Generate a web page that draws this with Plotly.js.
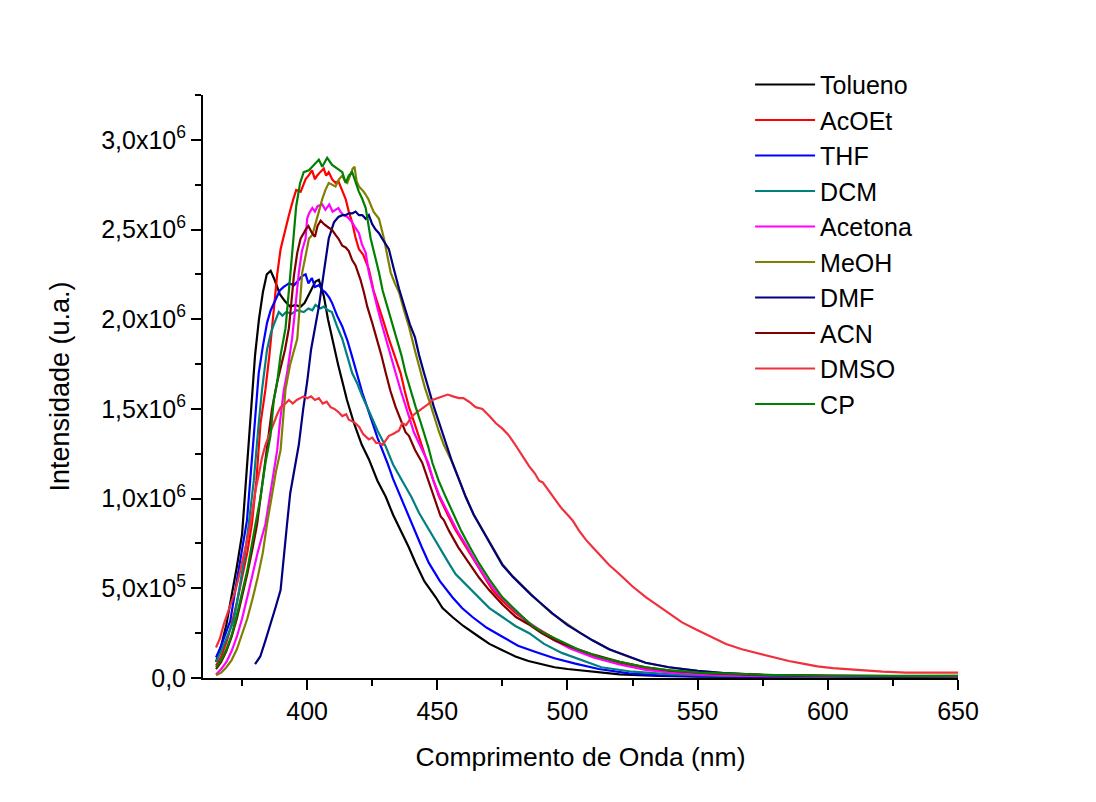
<!DOCTYPE html>
<html>
<head>
<meta charset="utf-8">
<script src="https://cdn.plot.ly/plotly-3.0.1.min.js"></script>
<style>
html,body{margin:0;padding:0;background:#fff;}
#chart{width:1096px;height:802px;}
</style>
</head>
<body>
<div id="chart"></div>
<script>
// Values in units of 10^6 (u.a.)
var seriesNames = ["Tolueno","AcOEt","THF","DCM","Acetona","MeOH","DMF","ACN","DMSO","CP"];

var toluenoX = [365,367,369,371,373,375,376.9,378.2,380,381.5,383,384.5,386,387.5,389.5,391.5,393.5,395.5,397.5,399,401,403.2,404.5,406.4,408,409.6,412,415.3,418,421,423.7,427,430.2,433,435.9,439,441.7,445,449.4,452,455.8,460,466,470,475,480,485,489,495,500,510,520,535,550,575,600,625,650];
var toluenoY = [0.09,0.18,0.30,0.45,0.62,0.80,1.20,1.45,1.80,2.00,2.15,2.25,2.27,2.22,2.14,2.10,2.07,2.08,2.07,2.09,2.15,2.21,2.22,2.13,2.00,1.89,1.74,1.55,1.42,1.30,1.22,1.10,1.01,0.91,0.825,0.73,0.64,0.54,0.45,0.39,0.34,0.29,0.23,0.19,0.155,0.12,0.095,0.08,0.06,0.05,0.033,0.02,0.012,0.008,0.006,0.005,0.004,0.005];

var acoetX = [365,367,369,371,373,375,377,378.8,380.5,382.1,384,385.5,387.2,388.5,389.8,391.5,393,394.5,395.8,397.5,399.4,400.5,401.9,403,403.8,405,406.4,407.3,408.3,409.6,410.9,412,412.8,414,414.8,416,417.3,418.5,419.9,421.5,423.7,425.5,427.6,429.5,431.4,433.5,435.9,437.5,439.1,441,442.3,444,446.2,448.5,450.7,454,457,461,464.7,468,471.2,475,480.2,485,489.1,495,500.7,510,520,530,539,550,565,580,600,625,650];
var acoetY = [0.07,0.12,0.20,0.30,0.42,0.56,0.70,0.86,1.10,1.42,1.61,1.80,2.07,2.25,2.39,2.50,2.58,2.66,2.72,2.71,2.78,2.80,2.83,2.78,2.80,2.82,2.84,2.80,2.82,2.78,2.76,2.77,2.74,2.70,2.67,2.60,2.54,2.46,2.39,2.36,2.28,2.16,2.07,1.98,1.89,1.80,1.70,1.60,1.51,1.43,1.37,1.29,1.20,1.10,1.01,0.91,0.825,0.73,0.64,0.56,0.49,0.43,0.36,0.31,0.27,0.22,0.173,0.12,0.08,0.05,0.034,0.025,0.018,0.014,0.01,0.009,0.01];

var thfX = [365,367,369,370.5,372.5,375,376.9,379.5,381.4,383,384.6,386,387.8,389.5,391,393,395,396.2,398,399.4,400.5,401.8,403,404.5,406,407,408.5,409.6,411.5,413.5,415.5,417.3,419.3,421.2,424,427,430.8,433,435.9,438.5,441,444,446.8,451,455.8,459.5,463.5,469,475,481,487.8,495,503,512,523.7,535,550,575,600,625,650];
var thfY = [0.115,0.18,0.26,0.32,0.50,0.72,0.88,1.35,1.70,1.85,1.98,2.05,2.11,2.16,2.18,2.20,2.19,2.21,2.24,2.25,2.20,2.23,2.18,2.19,2.16,2.15,2.12,2.09,2.02,1.96,1.88,1.79,1.69,1.59,1.47,1.34,1.20,1.11,1.01,0.92,0.825,0.73,0.64,0.54,0.45,0.39,0.34,0.28,0.23,0.18,0.145,0.11,0.08,0.05,0.026,0.015,0.01,0.007,0.005,0.004,0.004];

var dcmX = [365,367,369,371.8,374,376,377.6,379.5,381.4,382.7,384.6,386,387.2,389.1,390.5,392,394,396,398.7,400.5,402,403.2,405,406.4,408,409.5,411.5,413.5,415.5,417.3,419.3,421.2,424,427,430.2,433,436.5,440,443,447,450.7,454,457,461,466,470,475,480,485.3,491,497.8,505,513,525,540,560,580,600,625,650];
var dcmY = [0.09,0.15,0.22,0.32,0.50,0.68,0.86,1.10,1.42,1.61,1.83,1.92,1.97,2.04,2.02,2.04,2.03,2.05,2.04,2.06,2.05,2.08,2.06,2.07,2.05,2.04,1.96,1.89,1.79,1.70,1.64,1.57,1.48,1.38,1.29,1.19,1.10,1.01,0.92,0.82,0.73,0.65,0.58,0.52,0.45,0.39,0.34,0.29,0.25,0.19,0.14,0.10,0.06,0.035,0.02,0.012,0.009,0.008,0.007,0.008];

var acetonaX = [365,367,369,371,373,375,377,379,381,384,386,388.5,389.5,391,392.3,394.2,395.5,396.8,398,399.4,400,400.7,402,403,404,405.8,407,408.5,409.8,410.9,412,412.8,414,415.5,417.3,418.5,419.9,421,422.5,423.7,425.3,426.9,428.5,430.2,432,434,436,437.8,439.5,441,443.5,446.5,448.5,451,454.5,457.5,461.5,465,468.5,472,476,481,485,490,495,501,510,520,530,540,550,565,580,600,625,650];
var acetonaY = [0.02,0.05,0.09,0.15,0.23,0.33,0.45,0.58,0.70,0.86,1.05,1.27,1.42,1.60,1.70,1.89,2.07,2.26,2.38,2.45,2.56,2.59,2.62,2.60,2.63,2.64,2.61,2.64,2.60,2.61,2.62,2.60,2.58,2.57,2.54,2.51,2.48,2.42,2.37,2.26,2.16,2.07,1.98,1.89,1.80,1.70,1.60,1.51,1.44,1.37,1.29,1.20,1.10,1.01,0.91,0.825,0.73,0.64,0.56,0.49,0.43,0.36,0.31,0.26,0.21,0.165,0.115,0.075,0.045,0.03,0.02,0.013,0.01,0.008,0.007,0.008];

var meohX = [365,367,369,371,373,375,377,379,381,383,384.6,386.5,388,389.8,390.7,391.7,393.5,394.9,396.2,397.2,398.1,399.5,400.7,402,403.2,404.5,405.8,407,408.3,409.5,410.9,412.2,413.5,414.5,415.4,416.5,417.5,418.2,419,419.9,421.8,423.5,425.5,427.6,429.5,431,432.1,433.7,435.3,437.2,439.1,441.5,443.6,445.2,446.8,448.7,450.7,452.5,455.8,458.5,460.9,464,467.3,471,475,479,482.7,486,489,494,500,505,509.6,516,523.7,530,539,550,560,575,590,600,625,650];
var meohY = [0.015,0.03,0.06,0.10,0.16,0.24,0.33,0.44,0.56,0.70,0.86,1.02,1.15,1.27,1.45,1.61,1.75,1.83,1.89,2.08,2.26,2.36,2.45,2.47,2.54,2.60,2.67,2.72,2.76,2.75,2.74,2.78,2.80,2.77,2.76,2.80,2.84,2.85,2.77,2.74,2.71,2.67,2.60,2.56,2.45,2.34,2.26,2.20,2.15,2.05,1.96,1.82,1.70,1.62,1.55,1.46,1.37,1.30,1.20,1.10,1.01,0.91,0.825,0.73,0.635,0.565,0.51,0.465,0.425,0.36,0.30,0.25,0.21,0.16,0.117,0.085,0.06,0.04,0.028,0.018,0.013,0.012,0.01,0.012];

var dmfX = [380,382,384,386,388,389.8,391,392.3,393.5,394.9,396.8,398.5,400,401.5,403,404.5,406.4,408.3,410.3,412,413.5,414.8,416,417.3,418.6,419.9,421.2,422.5,423.7,425,426.3,427.6,428.8,430,431.4,433.3,435.3,437.8,439.5,441.4,443,444.9,446.8,448.7,450.3,451.9,453.8,455.8,458.5,460.9,464,467.3,471,475,479,482.7,486,489.1,494.2,500,505,509.6,516,523.7,530,539,550,560,575,590,600,625,650];
var dmfY = [0.077,0.12,0.21,0.30,0.40,0.49,0.65,0.86,1.03,1.15,1.30,1.50,1.65,1.83,1.95,2.07,2.26,2.45,2.54,2.57,2.58,2.58,2.59,2.59,2.60,2.58,2.58,2.56,2.58,2.53,2.50,2.48,2.45,2.42,2.39,2.28,2.17,2.05,1.97,1.90,1.80,1.70,1.60,1.51,1.44,1.37,1.29,1.20,1.10,1.01,0.91,0.825,0.73,0.63,0.565,0.51,0.465,0.425,0.36,0.295,0.25,0.21,0.16,0.117,0.085,0.06,0.04,0.027,0.017,0.012,0.01,0.008,0.01];

var acnX = [365,367,369,371,373,375,377,379,380.8,382.5,384.6,386.5,388.5,390.2,391.5,393,394.9,396.2,397.5,398.7,399.4,400.5,401.9,403,404,405.2,406.5,408.3,409.5,410.9,412,413.5,414.8,416,417.3,418.6,420.5,421.8,423.1,425,426.9,428.5,430.2,432,434,436,437.8,439.1,441.5,444.2,446.5,448.7,450,451.3,452.5,454.5,458,462.2,466,469.9,475,480.2,485,490,495,502,510,520,530,540,555,575,600,625,650];
var acnY = [0.05,0.09,0.15,0.23,0.33,0.45,0.58,0.72,0.86,1.05,1.30,1.50,1.65,1.75,1.83,1.95,2.24,2.37,2.45,2.48,2.50,2.52,2.48,2.46,2.52,2.55,2.53,2.51,2.50,2.47,2.45,2.41,2.40,2.38,2.33,2.30,2.22,2.15,2.07,1.98,1.89,1.80,1.70,1.60,1.51,1.44,1.37,1.35,1.27,1.20,1.10,1.01,0.96,0.90,0.88,0.82,0.73,0.64,0.56,0.49,0.41,0.34,0.30,0.25,0.21,0.17,0.13,0.09,0.06,0.04,0.025,0.016,0.011,0.01,0.01];

var dmsoX = [365,366.5,368,370,372.5,374,375.7,377,378.2,379.2,380.2,381.5,382.7,384,385.5,387.2,388.5,389.8,391.7,393,394.5,396,397.5,398.7,400,401.5,403,404.5,406,407.5,409,410.5,412.2,413.5,415,416,417.5,418.6,420,421.5,423.7,425,426.5,427.6,429,430.5,431.4,433,435.3,436.5,438,440.4,442,444.9,446.8,448.1,450,452.6,454,456,458.3,460,462.2,464.7,467.3,470,472.5,475,477.6,479.5,481.4,483.5,485.3,487.5,489.1,490.5,493,495.5,497.5,499.4,501.9,504.5,507.1,509.6,512.2,516,519.9,525,530.2,535,539.1,544,549.4,555,560.9,567,573.7,580,585,590.4,596,601.9,610,621,630,640,650];
var dmsoY = [0.17,0.22,0.30,0.39,0.49,0.58,0.68,0.77,0.86,0.95,1.05,1.14,1.23,1.30,1.36,1.42,1.47,1.51,1.53,1.55,1.53,1.55,1.56,1.57,1.56,1.57,1.55,1.56,1.53,1.54,1.51,1.50,1.48,1.46,1.47,1.44,1.43,1.42,1.40,1.36,1.33,1.34,1.31,1.31,1.30,1.33,1.35,1.36,1.38,1.42,1.41,1.46,1.48,1.51,1.53,1.55,1.56,1.57,1.58,1.57,1.56,1.56,1.54,1.51,1.50,1.46,1.42,1.39,1.35,1.31,1.27,1.22,1.18,1.14,1.10,1.09,1.04,0.99,0.95,0.92,0.88,0.82,0.77,0.73,0.69,0.63,0.58,0.51,0.45,0.40,0.36,0.31,0.27,0.23,0.19,0.16,0.136,0.11,0.095,0.08,0.065,0.055,0.045,0.035,0.03,0.028,0.03];

var cpX = [365,367,369,371,373,375,377,380.2,382,384,385.9,387.2,388.5,389.8,391.7,393.6,395.8,397.3,398.7,400.7,401.9,403.2,404.5,405.8,407.7,409.6,411.5,413.5,414.8,416,417.3,418.5,419.9,421.2,422.5,424.4,426,427.6,429,430.8,432.7,434.6,436.2,437.8,439.7,441.7,443.5,444.9,446.5,448.1,450.5,453.2,456,459,462.5,466,470,475,481.4,486.6,491,496.8,504,512.2,520,530,540,550.6,565,580,600,625,650];
var cpY = [0.06,0.10,0.16,0.24,0.35,0.47,0.60,0.86,1.00,1.20,1.35,1.55,1.65,1.80,1.95,2.26,2.63,2.76,2.82,2.83,2.85,2.87,2.89,2.85,2.90,2.86,2.84,2.82,2.76,2.80,2.82,2.77,2.71,2.67,2.62,2.45,2.36,2.26,2.16,2.07,1.98,1.89,1.80,1.70,1.60,1.51,1.43,1.37,1.29,1.20,1.10,1.01,0.92,0.825,0.73,0.64,0.55,0.45,0.36,0.29,0.25,0.21,0.16,0.117,0.09,0.06,0.042,0.03,0.022,0.016,0.012,0.012,0.012];

var seriesX = [toluenoX, acoetX, thfX, dcmX, acetonaX, meohX, dmfX, acnX, dmsoX, cpX];
var seriesY = [toluenoY, acoetY, thfY, dcmY, acetonaY, meohY, dmfY, acnY, dmsoY, cpY];
var seriesColors = ["#000000","#ff0000","#0000ff","#008080","#ff00ff","#808000","#000080","#800000","#f0303c","#008000"];

var yTickVals = [0, 0.5, 1.0, 1.5, 2.0, 2.5, 3.0];
var yTickText = ["0,0","5,0x10<sup>5</sup>","1,0x10<sup>6</sup>","1,5x10<sup>6</sup>","2,0x10<sup>6</sup>","2,5x10<sup>6</sup>","3,0x10<sup>6</sup>"];
var yMinorVals = [0.25, 0.75, 1.25, 1.75, 2.25, 2.75, 3.25];
var xTickVals = [400, 450, 500, 550, 600, 650];
var xMinorVals = [375, 425, 475, 525, 575, 625];

var traces = [];
for (var i = 0; i < seriesNames.length; i++) {
  traces.push({
    type: 'scatter', mode: 'lines', name: seriesNames[i],
    x: seriesX[i], y: seriesY[i],
    line: {color: seriesColors[i], width: 2.2},
    hoverinfo: 'skip'
  });
}

var FONT = "Liberation Sans, Arial, sans-serif";
var layout = {
  width: 1096, height: 802,
  margin: {l: 203, r: 138, t: 95, b: 124, pad: 0},
  paper_bgcolor: '#ffffff', plot_bgcolor: '#ffffff',
  font: {family: FONT, size: 25, color: '#000'},
  showlegend: true,
  legend: {
    x: 0.7246, xanchor: 'left', y: 1.057, yanchor: 'top',
    font: {family: FONT, size: 25, color: '#000'},
    bgcolor: 'rgba(0,0,0,0)', borderwidth: 0, itemwidth: 60,
    tracegroupgap: 0
  },
  xaxis: {
    range: [360, 650], showgrid: false, zeroline: false,
    showline: true, linecolor: '#000', linewidth: 2,
    ticks: 'outside', ticklen: 10, tickwidth: 2, tickcolor: '#000',
    tickmode: 'array', tickvals: xTickVals, ticktext: xTickVals.map(String),
    tickfont: {family: FONT, size: 25, color: '#000'},
    minor: {tickmode: 'array', tickvals: xMinorVals, ticks: 'outside', ticklen: 6, tickwidth: 2, tickcolor: '#000', showgrid: false},
    title: {text: 'Comprimento de Onda (nm)', font: {family: FONT, size: 26.5, color: '#000'}, standoff: 23}
  },
  yaxis: {
    range: [0, 3.25], showgrid: false, zeroline: false,
    showline: true, linecolor: '#000', linewidth: 2,
    ticks: 'outside', ticklen: 10, tickwidth: 2, tickcolor: '#000',
    tickmode: 'array', tickvals: yTickVals, ticktext: yTickText,
    tickfont: {family: FONT, size: 25, color: '#000'},
    minor: {tickmode: 'array', tickvals: yMinorVals, ticks: 'outside', ticklen: 6, tickwidth: 2, tickcolor: '#000', showgrid: false},
    title: {text: 'Intensidade (u.a.)', font: {family: FONT, size: 27, color: '#000'}, standoff: 24}
  }
};

Plotly.newPlot('chart', traces, layout, {displayModeBar: false, staticPlot: true});
</script>
</body>
</html>
